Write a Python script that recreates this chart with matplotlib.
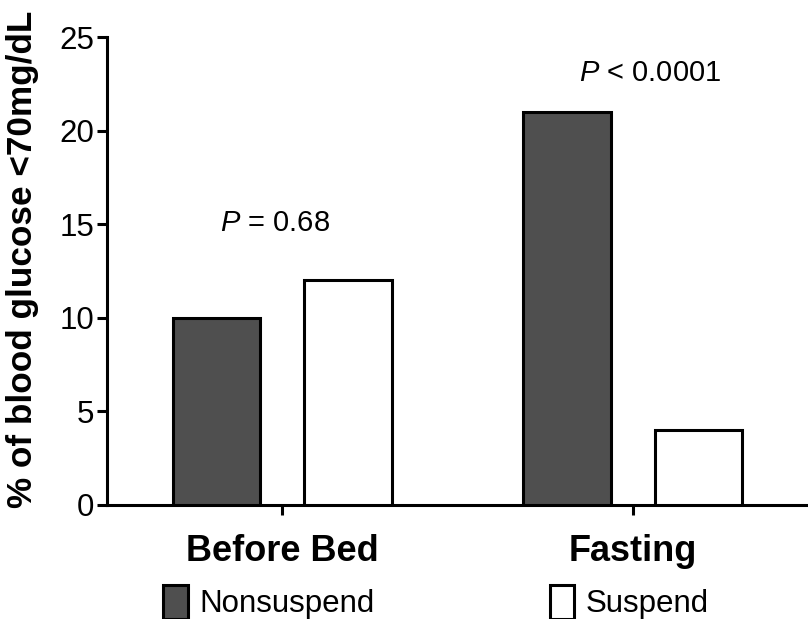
import matplotlib
matplotlib.use("Agg")
import matplotlib.pyplot as plt
import numpy as np
from matplotlib.patches import Patch

plt.rcParams['font.family'] = ['Liberation Sans', 'DejaVu Sans']
plt.rcParams['mathtext.fontset'] = 'custom'
plt.rcParams['mathtext.it'] = 'Liberation Sans:italic'
plt.rcParams['mathtext.rm'] = 'Liberation Sans'

categories = ["Before Bed", "Fasting"]
nonsuspend = [10, 21]
suspend = [12, 4]
p_labels = ["= 0.68", "< 0.0001"]
p_heights = [15.06, 23.1]
y_ticks = [0, 5, 10, 15, 20, 25]

dark = '#4f4f4f'
lw = 2.2

fig = plt.figure(figsize=(8.08, 6.19), dpi=100)
ax = fig.add_axes([0.1324, 0.1842, 0.8676, 0.756])

x = np.arange(len(categories))
width = 0.25
off = 0.188
ax.bar(x - off, nonsuspend, width, color=dark, edgecolor='black', linewidth=lw, zorder=3)
ax.bar(x + off, suspend, width, color='white', edgecolor='black', linewidth=lw, zorder=3)

# p-value annotations above each group
p_shift = [-0.022, 0.05]
for xi, lab, h, dx in zip(x, p_labels, p_heights, p_shift):
    ax.text(xi + dx, h, r"$\it{P}$ " + lab, ha='center', va='center', fontsize=21)

ax.set_xlim(-0.5, 1.5)
ax.set_ylim(0, 25)
ax.set_yticks(y_ticks)
ax.set_xticks(x)
ax.set_xticklabels(categories, fontsize=26, fontweight='bold')
ax.tick_params(axis='y', labelsize=22.5, length=7, width=lw, pad=2)
ax.tick_params(axis='x', length=7, width=lw, pad=14)
ax.set_ylabel("% of blood glucose <70mg/dL", fontsize=25.3, fontweight='bold')
ax.yaxis.set_label_coords(-0.0976, 0.524)

for s in ['top', 'right']:
    ax.spines[s].set_visible(False)
for s in ['left', 'bottom']:
    ax.spines[s].set_linewidth(lw)

handles = [Patch(facecolor=dark, edgecolor='black', linewidth=lw),
           Patch(facecolor='white', edgecolor='black', linewidth=lw)]
fig.legend(handles, ["Nonsuspend", "Suspend"], ncol=2, frameon=False,
           loc='upper left', bbox_to_anchor=(0.202, 0.055), borderpad=0,
           borderaxespad=0, fontsize=22.5, handlelength=0.78, handleheight=1.3,
           handletextpad=0.38, columnspacing=5.6)

fig.savefig("out.png", dpi=100)
